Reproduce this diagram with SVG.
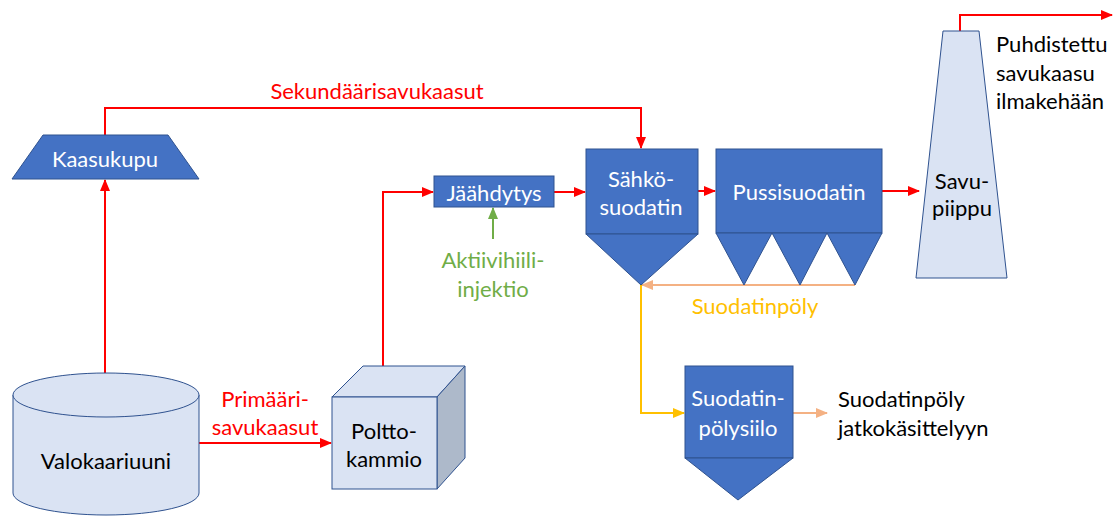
<svg xmlns="http://www.w3.org/2000/svg" width="1118" height="517" viewBox="0 0 1118 517">
<style>
text{font-family:Lato,"Liberation Sans",sans-serif;font-size:22px;text-anchor:middle;dominant-baseline:central}
.w{fill:#fff}.k{fill:#000}.r{fill:#FF0000}.g{fill:#70AD47}.y{fill:#FFC000}
.dark{fill:#4472C4;stroke:#2F528F;stroke-width:1}
.light{fill:#DAE3F3;stroke:#2F528F;stroke-width:1}
.red{fill:none;stroke:#FF0000;stroke-width:2}
.grn{fill:none;stroke:#70AD47;stroke-width:2}
.gold{fill:none;stroke:#FFC000;stroke-width:2}
.pch{fill:none;stroke:#F4B183;stroke-width:2}
</style>
<defs>
<marker id="ar" markerUnits="userSpaceOnUse" markerWidth="12" markerHeight="10" refX="11" refY="5" orient="auto"><path d="M0,0 L12,5 L0,10 Z" fill="#FF0000"/></marker>
<marker id="ag" markerUnits="userSpaceOnUse" markerWidth="12" markerHeight="10" refX="11" refY="5" orient="auto"><path d="M0,0 L12,5 L0,10 Z" fill="#70AD47"/></marker>
<marker id="ay" markerUnits="userSpaceOnUse" markerWidth="12" markerHeight="10" refX="11" refY="5" orient="auto"><path d="M0,0 L12,5 L0,10 Z" fill="#FFC000"/></marker>
<marker id="ap" markerUnits="userSpaceOnUse" markerWidth="12" markerHeight="10" refX="11" refY="5" orient="auto"><path d="M0,0 L12,5 L0,10 Z" fill="#F4B183"/></marker>
</defs>

<g id="connectors">
<path class="red" d="M105,418 V180" marker-end="url(#ar)"/>
<path class="red" d="M105,135 V108 H641 V148" marker-end="url(#ar)"/>
<path class="red" d="M199,443 H331" marker-end="url(#ar)"/>
<path class="red" d="M383,397 V192 H433" marker-end="url(#ar)"/>
<path class="red" d="M554,192 H585" marker-end="url(#ar)"/>
<path class="red" d="M698,191 H715" marker-end="url(#ar)"/>
<path class="red" d="M882,191 H919" marker-end="url(#ar)"/>
<path class="red" d="M960,31 V15 H1112" marker-end="url(#ar)"/>
<path class="grn" d="M493,239 V208" marker-end="url(#ag)"/>
<path class="pch" d="M855,285 H642" marker-end="url(#ap)"/>
<path class="gold" d="M641,285 V413 H684" marker-end="url(#ay)"/>
<path class="pch" d="M793,413 H827" marker-end="url(#ap)"/>
</g>

<g id="kaasukupu">
<polygon class="dark" points="43,135 168,135 199,179 12,179"/>
<text class="w" x="105" y="158">Kaasukupu</text>
</g>

<g id="valokaariuuni">
<path class="light" d="M13,395 V493 A93,22 0 0 0 199,493 V395"/>
<ellipse class="light" cx="106" cy="395" rx="93" ry="22"/>
<text class="k" x="106" y="460">Valokaariuuni</text>
</g>

<g id="polttokammio">
<polygon class="light" points="332,397 363,366 465,366 437,397"/>
<polygon points="437,397 465,366 465,458 437,489" fill="#ADB9CA" stroke="#2F528F" stroke-width="1"/>
<rect class="light" x="332" y="397" width="105" height="92"/>
<text class="k" x="384" y="430">Poltto-</text>
<text class="k" x="384" y="458">kammio</text>
</g>

<g id="jaahdytys">
<rect class="dark" x="434" y="176" width="120" height="31"/>
<text class="w" x="494" y="192">Jäähdytys</text>
</g>

<g id="aktiivihiili">
<text class="g" x="493" y="259">Aktiivihiili-</text>
<text class="g" x="493" y="288">injektio</text>
</g>

<g id="sahkosuodatin">
<rect class="dark" x="586" y="149" width="112" height="85"/>
<polygon class="dark" points="586,234 698,234 641,285"/>
<text class="w" x="641" y="178">Sähkö-</text>
<text class="w" x="641" y="206">suodatin</text>
</g>

<g id="pussisuodatin">
<rect class="dark" x="716" y="149" width="166" height="84"/>
<polygon class="dark" points="716,233 772,233 744,285"/>
<polygon class="dark" points="772,233 827,233 800,285"/>
<polygon class="dark" points="827,233 882,233 855,285"/>
<text class="w" x="799" y="191">Pussisuodatin</text>
</g>

<g id="suodatinpoly-label">
<text class="y" x="755" y="305">Suodatinpöly</text>
</g>

<g id="savupiippu">
<polygon class="light" points="943,31 979,31 1007,278 916,278"/>
<text class="k" x="962" y="180">Savu-</text>
<text class="k" x="962" y="207">piippu</text>
</g>

<g id="puhdistettu">
<text class="k" x="996" y="43" style="text-anchor:start">Puhdistettu</text>
<text class="k" x="996" y="72" style="text-anchor:start">savukaasu</text>
<text class="k" x="996" y="100" style="text-anchor:start">ilmakehään</text>
</g>

<g id="siilo">
<rect class="dark" x="685" y="366" width="108" height="92"/>
<polygon class="dark" points="685,458 793,458 738,500"/>
<text class="w" x="738" y="397">Suodatin-</text>
<text class="w" x="738" y="427">pölysiilo</text>
</g>

<g id="jatko">
<text class="k" x="838" y="398" style="text-anchor:start">Suodatinpöly</text>
<text class="k" x="838" y="427" style="text-anchor:start">jatkokäsittelyyn</text>
</g>

<g id="labels">
<text class="r" x="377" y="90">Sekundäärisavukaasut</text>
<text class="r" x="265" y="398">Primääri-</text>
<text class="r" x="265" y="426">savukaasut</text>
</g>
</svg>
